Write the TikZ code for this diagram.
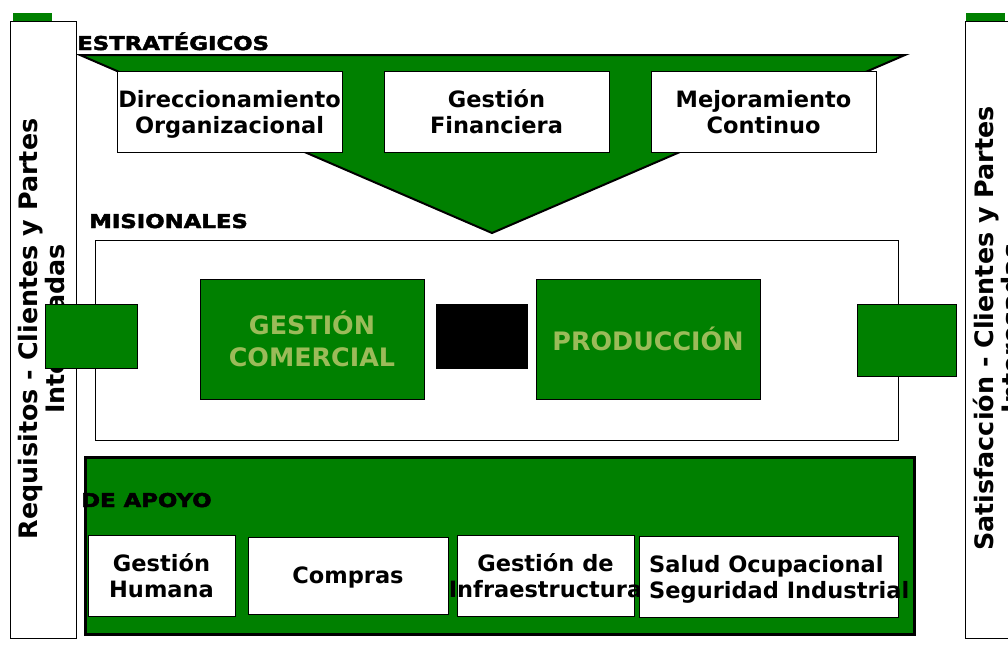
\documentclass[tikz,border=0pt]{standalone}
\usepackage{fontspec}
\setmainfont{DejaVu Sans}
\newfontfamily\headfont{DejaVu Sans}[FakeStretch=1.2,FakeBold=2.5]
\usetikzlibrary{positioning}
\definecolor{procgreen}{RGB}{0,128,0}
\definecolor{olivetext}{RGB}{155,187,89}

\begin{document}
\begin{tikzpicture}[
  x=1pt,y=-1pt,
  font=\bfseries\fontsize{22.5}{26}\selectfont,
  node distance=41pt,
  box/.style={draw,fill=white,line width=1pt,align=center,inner sep=0pt,text depth=0pt},
  topbox/.style={box,minimum width=225pt,minimum height=81pt},
  label/.style={inner sep=0pt,text depth=0pt},
  proc/.style={draw,fill=procgreen,line width=1pt,align=center,inner sep=0pt,text=olivetext,minimum width=224pt,minimum height=120pt,font=\bfseries\fontsize{25.4}{32}\selectfont},
  tab/.style={draw,fill=procgreen,line width=1pt,inner sep=0pt},
  bar/.style={fill=procgreen,inner sep=0pt,minimum width=39pt,minimum height=8pt},
  head/.style={anchor=base west,inner sep=0pt,font=\headfont\bfseries\fontsize{19}{22}\selectfont},
  side/.style={draw,fill=white,line width=1pt,inner sep=0pt,minimum width=66pt,minimum height=617pt},
  sidetxt/.style={rotate=90,align=center,inner sep=0pt,font=\bfseries\fontsize{25.4}{27}\selectfont}
]
\useasboundingbox (0,0) rectangle (1008,659);
\clip (0,0) rectangle (1008,659);
\fill[white] (0,0) rectangle (1008,659);

\draw[line width=2pt,fill=procgreen] (80,55) -- (905,55) -- (492,233) -- cycle;
\node[head] (estr) at (77,50) {ESTRATÉGICOS};
\node[topbox] (dir) at (229.5,111.5) {Direccionamiento\\Organizacional};
\node[topbox,right=of dir] (fin) {Gestión\\Financiera};
\node[topbox,right=of fin] (mej) {Mejoramiento\\Continuo};

\node[bar] (reqbar) at (32.5,17) {};
\node[side] (req) at (43,329.5) {};
\node[sidetxt] (reqtxt) at (42,329) {Requisitos - Clientes y Partes\\Interesadas};
\node[bar] (satbar) at (985,17) {};
\node[side] (sat) at (998,329.5) {};
\node[sidetxt] (sattxt) at (997,328.5) {Satisfacción - Clientes y Partes\\Interesadas};

\node[head] (mis) at (89,228) {MISIONALES};
\node[box,minimum width=803pt,minimum height=200pt] (misframe) at (496.5,340) {};
\node[proc] (com) at (312,339) {GESTIÓN\\COMERCIAL};
\node[fill=black,inner sep=0pt,minimum width=92pt,minimum height=65pt] (link) at (482,336.5) {};
\node[proc] (prod) at (648,339) {PRODUCCIÓN};
\node[tab,minimum width=92pt,minimum height=64pt] (intab) at (91,336) {};
\node[tab,minimum width=99pt,minimum height=72pt] (outtab) at (906.5,340) {};

\node[draw,fill=procgreen,line width=3pt,inner sep=0pt,minimum width=829pt,minimum height=177pt] (apoyoframe) at (499.5,545.5) {};
\node[head] (apoyo) at (81,507) {DE APOYO};
\node[box,minimum width=147pt,minimum height=81pt] (hum) at (161.5,575.5) {Gestión\\Humana};
\node[box,minimum width=200pt,minimum height=77pt] (comp) at (348,575.5) {Compras};
\node[box,minimum width=177pt,minimum height=81pt] (infra) at (545.5,575.5) {};
\node[label,align=center] (infratxt) at (infra) {Gestión de\\Infraestructura};
\node[box,minimum width=259pt,minimum height=81pt] (salud) at (768.5,576.5) {};
\node[label,align=left,anchor=west] (saludtxt) at (649,576.5) {Salud Ocupacional\\Seguridad Industrial};
\end{tikzpicture}
\end{document}
